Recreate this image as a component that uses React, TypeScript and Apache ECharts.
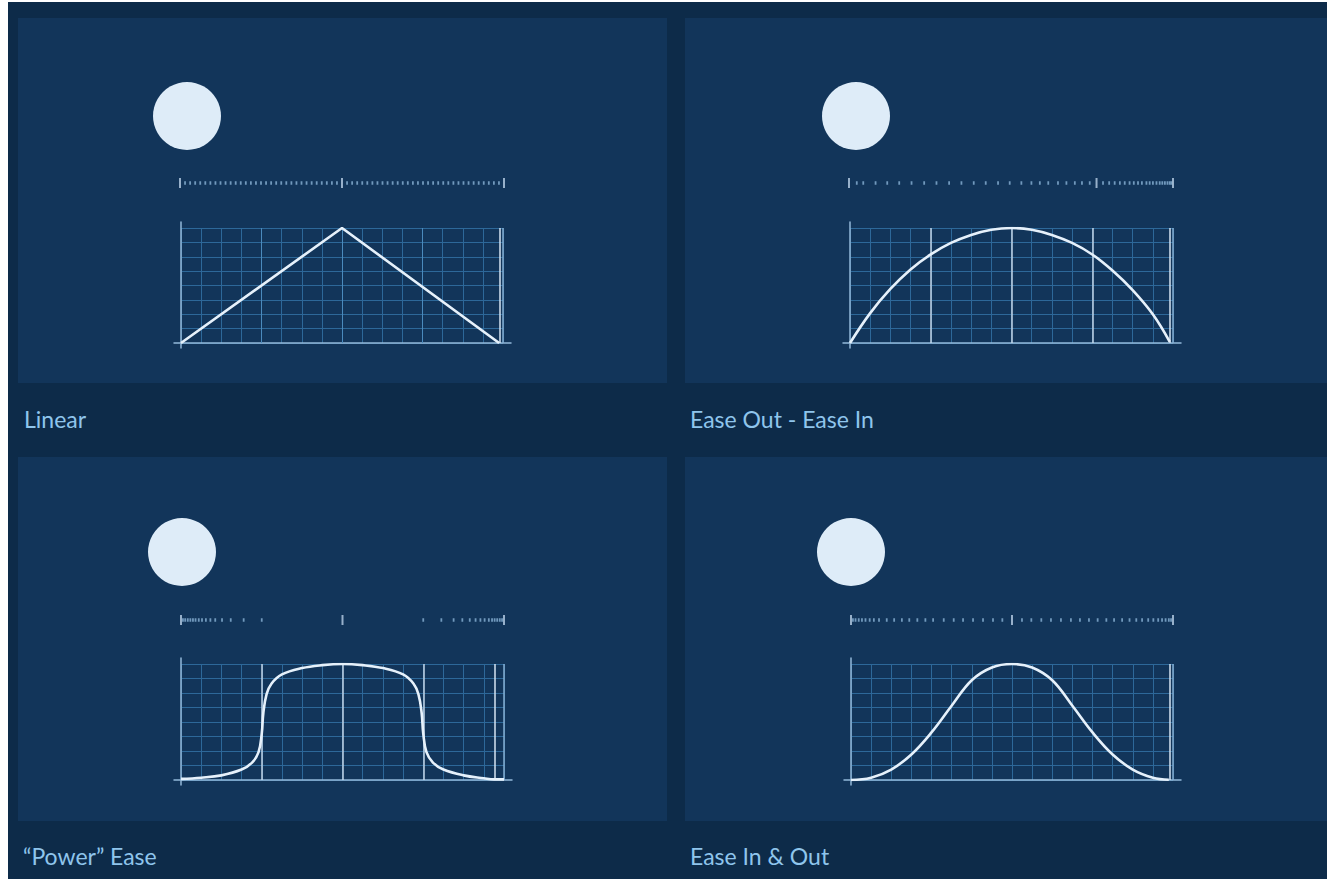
import React, { useEffect, useRef } from "react";
import * as echarts from "echarts";

// ---------- data ----------
const TITLES = ["Linear", "Ease Out - Ease In", "\u201CPower\u201D Ease", "Ease In & Out"];

// curves: [progress (0..1), value (0..1)]
const LINEAR_CURVE = [[0, 0], [0.5, 1], [0.988, 0]];
const EASE_OUT_IN_CURVE = [
  [0, 0], [0.0625, 0.26], [0.125, 0.47], [0.1875, 0.64], [0.25, 0.77], [0.3125, 0.87],
  [0.375, 0.94], [0.4375, 0.985], [0.5, 1], [0.5625, 0.985], [0.625, 0.94], [0.6875, 0.87],
  [0.75, 0.77], [0.8125, 0.63], [0.875, 0.46], [0.9375, 0.25], [0.99, 0.01],
];
const POWER_CURVE = [
  [0, 0.01], [0.0625, 0.02], [0.125, 0.04], [0.1875, 0.09], [0.22, 0.15], [0.24, 0.24],
  [0.25, 0.4], [0.255, 0.58], [0.265, 0.74], [0.28, 0.83], [0.3125, 0.91], [0.375, 0.965],
  [0.4375, 0.99], [0.5, 1], [0.5625, 0.99], [0.625, 0.965], [0.6875, 0.91], [0.72, 0.83],
  [0.735, 0.74], [0.745, 0.58], [0.75, 0.4], [0.76, 0.24], [0.78, 0.15], [0.8125, 0.09],
  [0.875, 0.04], [0.9375, 0.015], [0.969, 0.005], [1, 0.005],
];
const EASE_IN_OUT_CURVE = [
  [0, 0], [0.0625, 0.02], [0.125, 0.09], [0.1875, 0.22], [0.25, 0.41], [0.3125, 0.64],
  [0.375, 0.86], [0.4375, 0.97], [0.5, 1], [0.5625, 0.97], [0.625, 0.86], [0.6875, 0.64],
  [0.75, 0.41], [0.8125, 0.22], [0.875, 0.09], [0.9375, 0.02], [0.987, 0.002],
];

// frame strips: positions in percent of the strip
const LINEAR_TICKS = [
  1.56, 3.13, 4.69, 6.25, 7.81, 9.38, 10.94, 12.5, 14.06, 15.63, 17.19, 18.75, 20.31, 21.88,
  23.44, 25, 26.56, 28.13, 29.69, 31.25, 32.81, 34.38, 35.94, 37.5, 39.06, 40.63, 42.19, 43.75,
  45.31, 46.88, 48.44, 51.56, 53.13, 54.69, 56.25, 57.81, 59.38, 60.94, 62.5, 64.06, 65.63,
  67.19, 68.75, 70.31, 71.88, 73.44, 75, 76.56, 78.13, 79.69, 81.25, 82.81, 84.38, 85.94, 87.5,
  89.06, 90.63, 92.19, 93.75, 95.31, 96.88, 98.44,
];
const LINEAR_LONG = [0, 50, 100];
const EASE_OUT_IN_TICKS = [
  2.4, 4.4, 8.2, 11.8, 15.5, 19.3, 23.2, 27.0, 30.9, 34.7, 38.5, 42.2, 46.0, 49.6, 53.2, 56.3,
  58.9, 61.5, 64.5, 67.1, 69.7, 71.9, 74.3, 78.4, 80.3, 82.0, 83.6, 85.1, 86.6, 87.9, 89.2, 90.4,
  91.8, 92.8, 93.8, 94.9, 95.9, 96.7, 97.5, 98.3, 99.0, 99.5,
];
const EASE_OUT_IN_LONG = [0, 76.4, 100];
const POWER_TICKS = [
  0.6, 1.3, 2.1, 2.9, 3.7, 4.5, 5.5, 6.5, 7.7, 9.1, 10.6, 12.7, 15.4, 19.4, 25.0,
  75.0, 80.6, 84.4, 87.1, 89.4, 91.2, 92.7, 94.0, 95.3, 96.3, 97.1, 97.9, 98.7, 99.4,
];
const POWER_LONG = [0, 50, 100];
const EASE_IN_OUT_TICKS = [
  0.6, 1.4, 2.4, 3.4, 4.5, 5.8, 7.1, 8.7, 11.1, 13.4, 15.8, 18.1, 20.6, 23.1, 25.5, 28.8, 31.9,
  34.8, 37.9, 41.0, 44.1, 47.0, 53.1, 56.0, 59.1, 62.1, 65.2, 68.3, 71.1, 73.9, 76.6, 79.3, 81.7,
  84.2, 86.5, 88.6, 90.4, 92.3, 93.9, 95.4, 96.6, 97.7, 98.7, 99.4,
];
const EASE_IN_OUT_LONG = [0, 50, 100];

// guide lines (progress positions)
const LINEAR_GUIDES = [0.25, 0.5, 0.75];
const EASE_OUT_IN_GUIDES = [0.25, 0.5, 0.75];
const POWER_GUIDES = [0.25, 0.5, 0.75];
const EASE_IN_OUT_GUIDES: number[] = [];
const PLAYHEADS = [0.988, 0.99, 0.969, 0.987];

// ---------- layout / style ----------
const PANELS = [
  {
    curve: LINEAR_CURVE, smooth: false, ticks: LINEAR_TICKS, long: LINEAR_LONG,
    guides: LINEAR_GUIDES, guideColor: "#4a8abd",
    plot: { left: 181, top: 228, width: 322, height: 115 },
    strip: { left: 180, width: 324, y: 183 },
    circle: { x: 187, y: 116 }, label: { x: 24, y: 419 },
  },
  {
    curve: EASE_OUT_IN_CURVE, smooth: true, ticks: EASE_OUT_IN_TICKS, long: EASE_OUT_IN_LONG,
    guides: EASE_OUT_IN_GUIDES, guideColor: "#c3d6e9",
    plot: { left: 850, top: 228, width: 323, height: 115 },
    strip: { left: 849, width: 324, y: 183 },
    circle: { x: 856, y: 116 }, label: { x: 690, y: 419 },
  },
  {
    curve: POWER_CURVE, smooth: true, ticks: POWER_TICKS, long: POWER_LONG,
    guides: POWER_GUIDES, guideColor: "#c3d6e9",
    plot: { left: 181, top: 664, width: 323, height: 116 },
    strip: { left: 181, width: 323, y: 620 },
    circle: { x: 182, y: 552 }, label: { x: 23, y: 856 },
  },
  {
    curve: EASE_IN_OUT_CURVE, smooth: true, ticks: EASE_IN_OUT_TICKS, long: EASE_IN_OUT_LONG,
    guides: EASE_IN_OUT_GUIDES, guideColor: "#c3d6e9",
    plot: { left: 851, top: 664, width: 322, height: 116 },
    strip: { left: 851, width: 322, y: 620 },
    circle: { x: 851, y: 552 }, label: { x: 690, y: 856 },
  },
];

const GRID_COLOR = "#2d6899";
const AXIS_COLOR = "#93b9da";
const CURVE_COLOR = "#e6f1fb";

function buildOption() {
  const grid: any[] = [];
  const xAxis: any[] = [];
  const yAxis: any[] = [];
  const series: any[] = [];
  const hidden = { show: false };

  PANELS.forEach((p, i) => {
    const base = i * 4;
    // plot grid
    grid.push({ ...p.plot, containLabel: false });
    xAxis.push({
      type: "value", gridIndex: base, min: 0, max: 1, interval: 0.0625,
      axisLine: hidden, axisTick: hidden, axisLabel: hidden,
      splitLine: { show: true, lineStyle: { color: GRID_COLOR, width: 1 } },
    });
    yAxis.push({
      type: "value", gridIndex: base, min: 0, max: 1, interval: 0.125,
      axisLine: hidden, axisTick: hidden, axisLabel: hidden,
      splitLine: { show: true, lineStyle: { color: GRID_COLOR, width: 1 } },
    });
    // vertical axis (extends above/below plot)
    grid.push({ left: p.plot.left, top: p.plot.top - 6, width: p.plot.width, height: p.plot.height + 11 });
    xAxis.push({ type: "value", gridIndex: base + 1, min: 0, max: 1, show: false });
    yAxis.push({
      type: "value", gridIndex: base + 1, min: 0, max: 1, position: "left",
      axisLine: { show: true, onZero: false, lineStyle: { color: AXIS_COLOR, width: 1.5 } },
      axisTick: hidden, axisLabel: hidden, splitLine: hidden,
    });
    // baseline (extends left/right)
    grid.push({ left: p.plot.left - 7, top: p.plot.top, width: p.plot.width + 15, height: p.plot.height });
    xAxis.push({
      type: "value", gridIndex: base + 2, min: 0, max: 1, position: "bottom",
      axisLine: { show: true, onZero: false, lineStyle: { color: AXIS_COLOR, width: 1.5 } },
      axisTick: hidden, axisLabel: hidden, splitLine: hidden,
    });
    yAxis.push({ type: "value", gridIndex: base + 2, min: 0, max: 1, show: false });
    // frame strip
    grid.push({ left: p.strip.left, top: p.strip.y - 6, width: p.strip.width, height: 12 });
    xAxis.push({ type: "value", gridIndex: base + 3, min: 0, max: 100, show: false });
    yAxis.push({ type: "value", gridIndex: base + 3, min: 0, max: 1, show: false });

    const marks: any[] = p.guides.map((g) => ({
      xAxis: g,
      lineStyle: { color: p.guideColor, width: i === 0 ? 1 : 1.5, type: "solid" },
    }));
    marks.push({ xAxis: 1, lineStyle: { color: "#86afd3", width: 1.5, type: "solid" } });
    marks.push({ xAxis: PLAYHEADS[i], lineStyle: { color: "#d6e5f3", width: 1.5, type: "solid" } });

    series.push({
      type: "line", xAxisIndex: base, yAxisIndex: base, data: p.curve,
      smooth: p.smooth ? 0.4 : false, showSymbol: false, symbol: "none",
      lineStyle: { color: CURVE_COLOR, width: 2.6 }, z: 5, silent: true,
      markLine: {
        silent: true, symbol: "none", label: { show: false }, data: marks, z: 3,
        lineStyle: { type: "solid" },
      },
    });
    series.push({
      type: "scatter", xAxisIndex: base + 3, yAxisIndex: base + 3,
      data: p.ticks.map((t) => [t, 0.5]), symbol: "rect", symbolSize: [1.8, 3.5],
      itemStyle: { color: "#8ab3d6" }, silent: true,
    });
    series.push({
      type: "scatter", xAxisIndex: base + 3, yAxisIndex: base + 3,
      data: p.long.map((t) => [t, 0.5]), symbol: "rect", symbolSize: [2, 10],
      itemStyle: { color: "#b9d0e6" }, silent: true,
    });
  });

  const graphics: any[] = [
    { type: "rect", z: -10, shape: { x: 8, y: 2, width: 1319, height: 877 }, style: { fill: "#0d2b49" } },
    { type: "rect", z: -9, shape: { x: 18, y: 18, width: 649, height: 365 }, style: { fill: "#12355a" } },
    { type: "rect", z: -9, shape: { x: 685, y: 18, width: 642, height: 365 }, style: { fill: "#12355a" } },
    { type: "rect", z: -9, shape: { x: 18, y: 457, width: 649, height: 364 }, style: { fill: "#12355a" } },
    { type: "rect", z: -9, shape: { x: 685, y: 457, width: 642, height: 364 }, style: { fill: "#12355a" } },
  ];
  PANELS.forEach((p, i) => {
    graphics.push({
      type: "circle", z: 10, shape: { cx: p.circle.x, cy: p.circle.y, r: 34 },
      style: { fill: "#deecf8" },
    });
    graphics.push({
      type: "text", z: 10, x: p.label.x, y: p.label.y,
      style: {
        text: TITLES[i], fill: "#8fc5ec", font: "23px Lato",
        textVerticalAlign: "middle", textAlign: "left",
      },
    });
  });

  return {
    animation: false,
    backgroundColor: "#ffffff",
    grid, xAxis, yAxis, series,
    graphic: { elements: graphics },
  };
}

export default function App() {
  const ref = useRef<HTMLDivElement>(null);
  useEffect(() => {
    if (!ref.current) return;
    const chart = echarts.init(ref.current, null, { renderer: "svg" });
    chart.setOption(buildOption() as any);
    return () => chart.dispose();
  }, []);
  return (
    <div
      ref={ref}
      style={{ position: "absolute", left: 0, top: 0, width: 1327, height: 879 }}
    />
  );
}
